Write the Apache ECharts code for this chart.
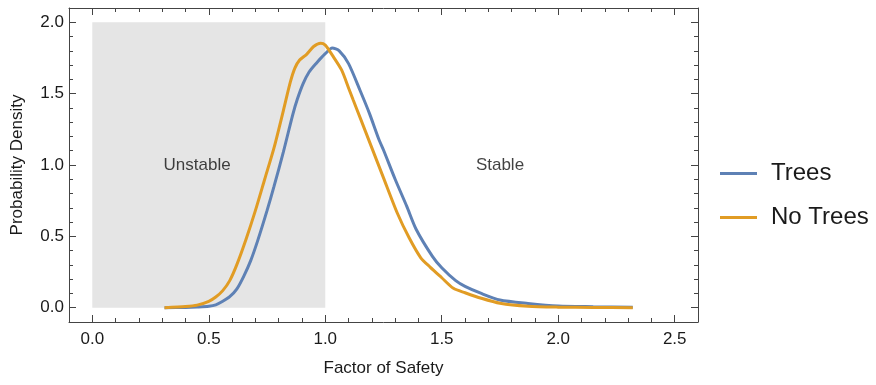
<!DOCTYPE html>
<html>
<head>
<meta charset="utf-8">
<script src="https://cdn.jsdelivr.net/npm/echarts@6/dist/echarts.min.js"></script>
<style>html,body{margin:0;padding:0;background:#fff;}#c{width:876px;height:385px;}</style>
</head>
<body>
<div id="c"></div>
<script>
// ---- data ----
const treesX = [0.31,0.40,0.45,0.50,0.53,0.56,0.59,0.62,0.65,0.68,0.71,0.75,0.78,0.82,0.86,0.88,0.905,0.93,0.96,1.00,1.03,1.06,1.10,1.15,1.19,1.23,1.25,1.30,1.35,1.39,1.46,1.50,1.56,1.60,1.67,1.75,1.87,2.00,2.15,2.32];
const treesY = [0.000,0.002,0.005,0.010,0.020,0.045,0.077,0.130,0.220,0.330,0.470,0.680,0.850,1.090,1.350,1.460,1.570,1.650,1.710,1.780,1.820,1.800,1.710,1.520,1.360,1.180,1.105,0.900,0.710,0.550,0.360,0.280,0.190,0.150,0.100,0.054,0.030,0.012,0.007,0.003];
const noTreesX = [0.31,0.40,0.45,0.50,0.53,0.56,0.59,0.62,0.66,0.70,0.74,0.78,0.82,0.85,0.87,0.89,0.92,0.95,0.98,1.00,1.03,1.07,1.10,1.12,1.15,1.20,1.25,1.31,1.36,1.41,1.45,1.50,1.55,1.60,1.67,1.75,1.87,2.00,2.15,2.32];
const noTreesY = [0.000,0.008,0.018,0.045,0.075,0.120,0.190,0.300,0.480,0.680,0.900,1.120,1.380,1.580,1.680,1.735,1.775,1.830,1.853,1.840,1.770,1.666,1.540,1.455,1.330,1.120,0.910,0.660,0.490,0.350,0.285,0.210,0.136,0.105,0.066,0.031,0.010,0.004,0.002,0.000];
const seriesNames = ['Trees', 'No Trees'];
const xTickLabels = [0, 0.5, 1.0, 1.5, 2.0, 2.5];
const yTickLabels = [0, 0.5, 1.0, 1.5, 2.0];
const unstableRegion = {x0: 0, x1: 1, y0: 0, y1: 2};
const regionTexts = [['Unstable', 0.45, 1.0], ['Stable', 1.75, 1.0]];
const xRange = [-0.1, 2.6];
const yRange = [-0.1, 2.1];

// ---- chart ----
const frameColor = '#444';
const textColor = '#1a1a1a';
const fontFamily = 'Liberation Sans, Arial, sans-serif';
function majorAxis(pos, values, showLabels, extra) {
  return Object.assign({
    type: 'value', position: pos,
    axisLine: {show: true, onZero: false, lineStyle: {color: frameColor, width: 1}},
    axisTick: {show: true, inside: true, length: 7, customValues: values, lineStyle: {color: frameColor}},
    axisLabel: {show: showLabels, customValues: values, color: textColor, fontSize: 17, fontFamily: fontFamily,
      formatter: v => Number(v).toFixed(1)},
    splitLine: {show: false}
  }, extra);
}
function minorAxis(pos, extra) {
  return Object.assign({
    type: 'value', position: pos, interval: 0.1,
    axisLine: {show: false, onZero: false},
    axisTick: {show: true, inside: true, length: 4, lineStyle: {color: frameColor}},
    axisLabel: {show: false},
    splitLine: {show: false}
  }, extra);
}
const nameStyle = {color: textColor, fontSize: 17, fontFamily: fontFamily};
const xAxes = [
  majorAxis('bottom', xTickLabels, true, {min: xRange[0], max: xRange[1], name: 'Factor of Safety', nameLocation: 'middle', nameGap: 38,
    nameTextStyle: nameStyle, axisLabel: {show: true, customValues: xTickLabels, color: textColor, fontSize: 17, fontFamily: fontFamily, margin: 9, formatter: v => Number(v).toFixed(1)}}),
  minorAxis('bottom', {min: xRange[0], max: xRange[1]}),
  majorAxis('top', xTickLabels, false, {min: xRange[0], max: xRange[1]}),
  minorAxis('top', {min: xRange[0], max: xRange[1]})
];
const yAxes = [
  majorAxis('left', yTickLabels, true, {min: yRange[0], max: yRange[1], name: 'Probability Density', nameLocation: 'middle', nameGap: 43,
    nameTextStyle: nameStyle, axisLabel: {show: true, customValues: yTickLabels, color: textColor, fontSize: 17, fontFamily: fontFamily, margin: 5, formatter: v => Number(v).toFixed(1)}}),
  minorAxis('left', {min: yRange[0], max: yRange[1]}),
  majorAxis('right', yTickLabels, false, {min: yRange[0], max: yRange[1]}),
  minorAxis('right', {min: yRange[0], max: yRange[1]})
];

const chart = echarts.init(document.getElementById('c'), null, {renderer: 'canvas'});
chart.setOption({
  animation: false,
  backgroundColor: '#fff',
  grid: {left: 69, top: 8, right: 178, bottom: 63, containLabel: false},
  xAxis: xAxes,
  yAxis: yAxes,
  legend: {
    data: seriesNames, orient: 'vertical', left: 720, top: 160, padding: 0,
    icon: 'rect', itemWidth: 37, itemHeight: 3, itemGap: 17,
    textStyle: {color: textColor, fontSize: 24, fontFamily: fontFamily, lineHeight: 27, padding: [0,0,0,9]}
  },
  series: [
    {
      name: 'region', type: 'line', data: [], z: 1, silent: true,
      markArea: {silent: true, itemStyle: {color: '#e5e5e5', opacity: 1},
        data: [[{coord: [unstableRegion.x0, unstableRegion.y0]}, {coord: [unstableRegion.x1, unstableRegion.y1]}]]}
    },
    {
      name: 'labels', type: 'scatter', z: 2, silent: true, symbolSize: 0,
      data: regionTexts.map(t => ({name: t[0], value: [t[1], t[2]]})),
      label: {show: true, position: 'inside', formatter: p => p.name, color: '#111', fontSize: 17, fontFamily: fontFamily}
    },
    {
      name: seriesNames[0], type: 'line', z: 3, showSymbol: false, symbol: 'none', smooth: 0.25,
      color: '#5E81B5', lineStyle: {width: 3, color: '#5E81B5'},
      data: treesX.map((x, i) => [x, treesY[i]])
    },
    {
      name: seriesNames[1], type: 'line', z: 4, showSymbol: false, symbol: 'none', smooth: 0.25,
      color: '#E19C24', lineStyle: {width: 3, color: '#E19C24'},
      data: noTreesX.map((x, i) => [x, noTreesY[i]])
    }
  ]
});
</script>
</body>
</html>
